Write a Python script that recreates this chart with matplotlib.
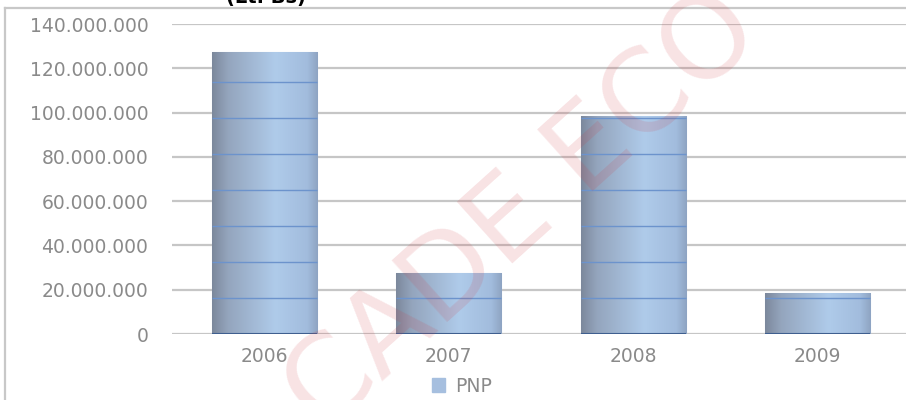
import matplotlib
matplotlib.use("Agg")
import matplotlib.pyplot as plt
import numpy as np
from matplotlib.colors import LinearSegmentedColormap
from matplotlib.lines import Line2D
from matplotlib.patches import Patch

years = ["2006", "2007", "2008", "2009"]
pnp = [127_400_000, 27_700_000, 98_500_000, 18_600_000]
yticks = np.arange(0, 140_000_001, 20_000_000)

grey_txt = "#8a8a8a"
bar_cmap = LinearSegmentedColormap.from_list(
    "bar", [(0.0, "#7c889c"), (0.15, "#94a5bd"), (0.6, "#afcbea"),
            (0.9, "#a2bcdd"), (1.0, "#8ea4c2")])
band_step = 16_250_000   # the faint blue bands inside the bars

fig = plt.figure(figsize=(9.06, 4.0), dpi=100)
ax = fig.add_axes((172 / 906, 1 - 334 / 400, 734 / 906, 310 / 400))

x = np.arange(len(years))
width = 0.57
bars = ax.bar(x, pnp, width, color="#a6bfdf", edgecolor="#c3d0e2",
              linewidth=0.8, zorder=2, label="PNP")

grad = np.linspace(0, 1, 256).reshape(1, -1)
for xi, val, b in zip(x, pnp, bars):
    im = ax.imshow(grad, extent=(xi - width / 2, xi + width / 2, 0, val),
                   aspect="auto", cmap=bar_cmap, zorder=2.5, interpolation="bicubic")
    im.set_clip_path(b)
    levels = np.arange(0, val, band_step)
    ax.hlines(levels[1:], xi - width / 2, xi + width / 2, color="#6c93cc",
              linewidth=1.0, zorder=3)
    ax.hlines([0], xi - width / 2, xi + width / 2, color="#3f5f8f",
              linewidth=1.5, zorder=3)

ax.set_xlim(-0.5, -0.5 + 734 / 184.5)
ax.set_ylim(0, 140_000_000)
ax.set_yticks(yticks)
ax.set_yticklabels(["0" if v == 0 else f"{v:,.0f}".replace(",", ".") for v in yticks])
ax.set_xticks(x)
ax.set_xticklabels(years)
ax.tick_params(axis="y", length=0, pad=17, labelsize=13.5, labelcolor=grey_txt)
ax.tick_params(axis="x", length=0, pad=9, labelsize=13.5, labelcolor=grey_txt)
ax.grid(axis="y", color="#c6c6c6", linewidth=1.6, zorder=0)
ax.set_axisbelow(True)
for s in ax.spines.values():
    s.set_visible(False)

leg = ax.legend(handles=[Patch(color="#a6bfdf", label="PNP")],
                loc="center", bbox_to_anchor=(462 / 906, 1 - 386 / 400),
                bbox_transform=fig.transFigure, frameon=False,
                fontsize=13.5, handlelength=0.7, handleheight=0.7,
                handletextpad=0.5)
for t in leg.get_texts():
    t.set_color(grey_txt)

# outer chart frame, cut by the screenshot
fig.add_artist(Line2D([5 / 906, 5 / 906], [0, 1 - 8 / 400], transform=fig.transFigure,
                      color="#c8c8c8", linewidth=1.6))
fig.add_artist(Line2D([5 / 906, 1], [1 - 8 / 400, 1 - 8 / 400], transform=fig.transFigure,
                      color="#c8c8c8", linewidth=1.6))

fig.text(266 / 906, 1 - 7 / 400, "(Lt. Bs)", ha="center", va="bottom",
         fontsize=14, fontweight="bold", color="black")

# watermark
fig.text(522 / 906, 1 - 212 / 400, "CADE ECO", ha="center", va="center",
         rotation=42, rotation_mode="anchor", fontsize=82,
         color=(0.82, 0.22, 0.25), alpha=0.14, zorder=10)

fig.savefig("out.png", dpi=100)
